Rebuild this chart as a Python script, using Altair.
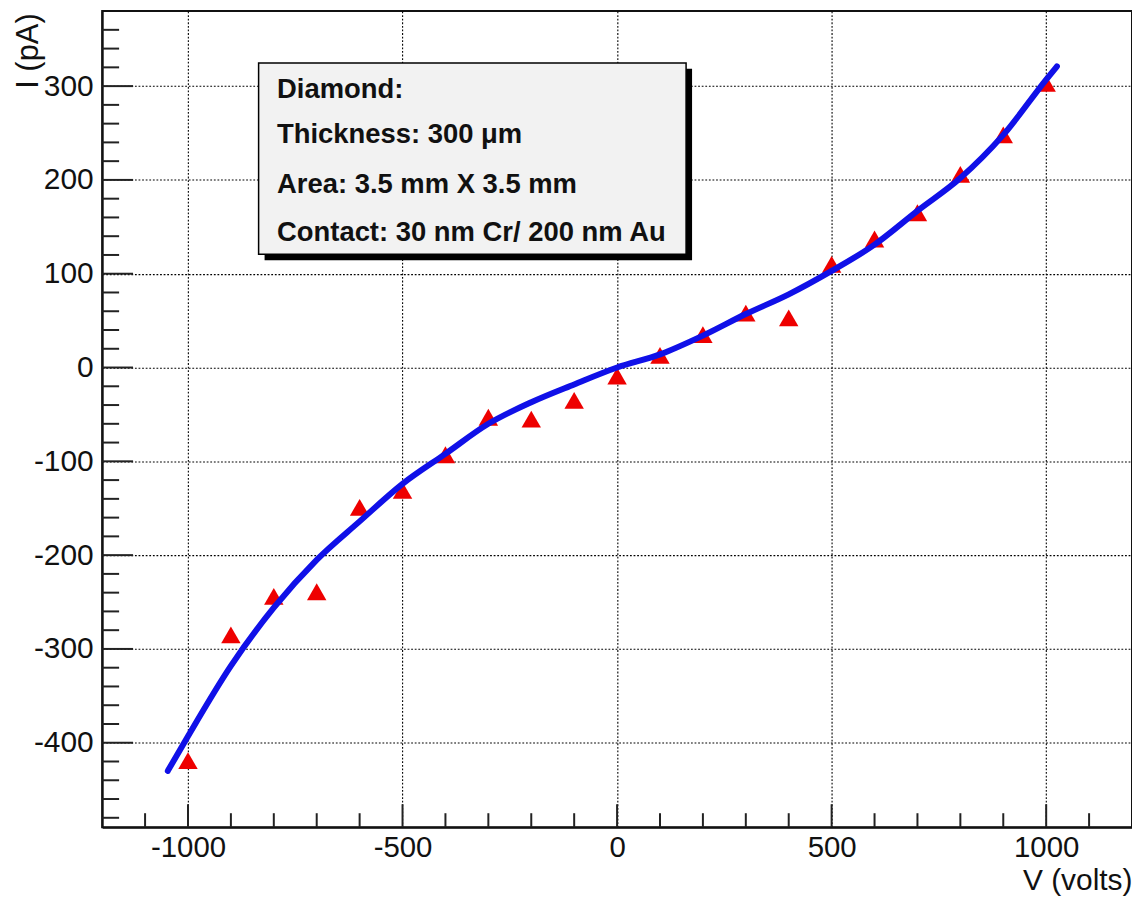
import altair as alt
import pandas as pd

# ---- data ----
voltage = [-1000, -900, -800, -700, -600, -500, -400, -300, -200, -100, 0,
           100, 200, 300, 400, 500, 600, 700, 800, 900, 1000]
current = [-419, -285, -244, -239, -149, -131, -93, -53, -55, -35, -9,
           13, 35, 58, 53, 110, 137, 165, 206, 248, 303]

fit_v = [-1047, -1000, -900, -800, -700, -600, -500, -400, -300, -200, -100, 0,
         100, 200, 300, 400, 500, 600, 700, 800, 900, 1000, 1025]
fit_i = [-430, -393, -318, -256, -205, -164, -124, -92, -60, -37, -18, 0,
         14, 34, 57, 78, 103, 131, 167, 202, 248, 307, 321]

x_major = [-1000, -500, 0, 500, 1000]
x_minor = [-1100, -900, -800, -700, -600, -400, -300, -200, -100,
           100, 200, 300, 400, 600, 700, 800, 900, 1100]
y_major = [-400, -300, -200, -100, 0, 100, 200, 300]
y_minor = [v for v in range(-480, 361, 20) if v % 100 != 0]

legend_lines = ["Diamond:", "Thickness: 300 \u03bcm", "Area: 3.5 mm X 3.5 mm",
                "Contact: 30 nm Cr/ 200 nm Au"]

W, H = 1033.5, 819
FONT = "Liberation Sans"
LABEL_EXPR = "datum.value < 0 ? '-' + abs(datum.value) : '' + datum.value"

xscale = alt.Scale(domain=[-1200, 1200], nice=False, zero=False)
yscale = alt.Scale(domain=[-490, 380], nice=False, zero=False)

xaxis = alt.Axis(values=x_major, labelExpr=LABEL_EXPR, grid=True, gridColor="#000",
                 gridDash=[1.8, 1.8], gridWidth=1.1, ticks=False, tickSize=0,
                 domain=True, domainColor="#111", domainWidth=2,
                 labelFontSize=29.5, labelPadding=6, labelColor="#111",
                 labelFont=FONT, title="V (volts)", titleFont=FONT,
                 titleFontSize=30, titleFontWeight="normal", titleColor="#111",
                 titleAlign="right", titleBaseline="alphabetic",
                 titleX=W, titleY=63)
yaxis = alt.Axis(values=y_major, labelExpr=LABEL_EXPR, grid=True, gridColor="#000",
                 gridDash=[1.8, 1.8], gridWidth=1.1, ticks=False, tickSize=0,
                 domain=True, domainColor="#111", domainWidth=2,
                 labelFontSize=30, labelPadding=9, labelColor="#111",
                 labelFont=FONT, title="I (pA)", titleFont=FONT,
                 titleFontSize=31, titleFontWeight="normal", titleColor="#111",
                 titleAngle=270, titleAlign="left", titleBaseline="alphabetic",
                 titleX=-64.5, titleY=77.5)

X = lambda f: alt.X(f"{f}:Q", scale=xscale, axis=xaxis)
Y = lambda f: alt.Y(f"{f}:Q", scale=yscale, axis=yaxis)

pts_df = pd.DataFrame({"v": voltage, "i": current})
fit_df = pd.DataFrame({"v": fit_v, "i": fit_i})

points = alt.Chart(pts_df).mark_point(
    shape="triangle-up", filled=True, color="#ee0000", opacity=1, size=380
).encode(x=X("v"), y=Y("i"))

fit_line = alt.Chart(fit_df).mark_line(
    color="#1010e8", strokeWidth=6, interpolate="monotone", strokeCap="round"
).encode(x=X("v"), y=Y("i"))

def xticks(vals, length):
    return alt.Chart(pd.DataFrame({"v": vals})).mark_rule(
        color="#222", strokeWidth=2
    ).encode(x=X("v"), y=alt.value(H), y2=alt.value(H - length))

def yticks(vals, length):
    return alt.Chart(pd.DataFrame({"i": vals})).mark_rule(
        color="#222", strokeWidth=2
    ).encode(y=Y("i"), x=alt.value(0), x2=alt.value(length))

one = alt.Data(values=[{}])
shadow = alt.Chart(one).mark_rect(color="#000", opacity=1).encode(
    x=alt.value(163), x2=alt.value(592), y=alt.value(58), y2=alt.value(250)
)
box = alt.Chart(one).mark_rect(
    fill="#f2f2f2", stroke="#000", strokeWidth=1.5, opacity=1
).encode(
    x=alt.value(157), x2=alt.value(586), y=alt.value(52), y2=alt.value(244)
)
text_y = [87.2, 132.2, 182.2, 230.5]
texts = [
    alt.Chart(one).mark_text(
        text=line, align="left", baseline="alphabetic", font=FONT,
        fontWeight="bold", fontSize=27.5, color="#111"
    ).encode(x=alt.value(175.5), y=alt.value(yy))
    for line, yy in zip(legend_lines, text_y)
]

chart = alt.layer(
    points,
    xticks(x_major, 23), xticks(x_minor, 14),
    yticks(y_major, 31), yticks(y_minor, 17),
    fit_line,
    shadow, box, *texts,
).properties(
    width=W, height=H,
    autosize=alt.AutoSizeParams(type="none"),
    padding={"left": 94.5, "top": 1.5, "right": 0, "bottom": 69},
).configure(
    font=FONT, background="white"
).configure_view(
    stroke="#111", strokeWidth=2
)

chart.save("out.html", embed_options={"renderer": "svg", "actions": False})
